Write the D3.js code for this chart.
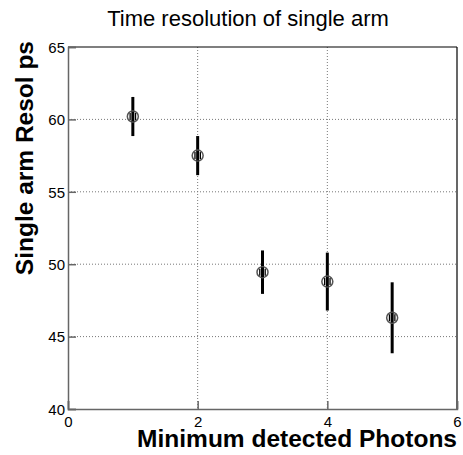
<!DOCTYPE html>
<html>
<head>
<meta charset="utf-8">
<script src="https://cdn.jsdelivr.net/npm/d3@7"></script>
<style>
  body { margin: 0; background: #fff; }
  text { font-family: "Liberation Sans", Arial, sans-serif; }
</style>
</head>
<body>
<div id="chart-area"></div>
<script>
const photons = [1, 2, 3, 4, 5];
const resol = [60.2, 57.5, 49.45, 48.8, 46.3];
const resolErr = [1.35, 1.35, 1.5, 2.0, 2.45];
const xTicks = [0, 2, 4, 6];
const yTicks = [40, 45, 50, 55, 60, 65];

const margin = { top: 47, right: 6, bottom: 46, left: 68 };
const width = 463 - margin.left - margin.right;
const height = 455 - margin.top - margin.bottom;

const svg = d3.select("#chart-area")
  .append("svg")
  .attr("width", 463)
  .attr("height", 455);

const g = svg.append("g")
  .attr("transform", `translate(${margin.left}, ${margin.top})`);

const x = d3.scaleLinear().domain([0, 6]).range([0, width]);
const y = d3.scaleLinear().domain([40, 65]).range([height, 0]);

// grid
g.selectAll(".vgrid")
  .data(xTicks.filter(d => d > 0 && d < 6))
  .enter().append("line")
  .attr("x1", d => x(d)).attr("x2", d => x(d))
  .attr("y1", 0).attr("y2", height)
  .attr("stroke", "#777").attr("stroke-dasharray", "1,2");

g.selectAll(".hgrid")
  .data(yTicks.filter(d => d > 40 && d < 65))
  .enter().append("line")
  .attr("x1", 0).attr("x2", width)
  .attr("y1", d => y(d)).attr("y2", d => y(d))
  .attr("stroke", "#777").attr("stroke-dasharray", "1,2");

// frame
g.append("line").attr("x1", 0).attr("x2", width).attr("y1", 0).attr("y2", 0)
  .attr("stroke", "#000").attr("stroke-width", 1.2);
g.append("line").attr("x1", width).attr("x2", width).attr("y1", 0).attr("y2", height)
  .attr("stroke", "#000").attr("stroke-width", 1.2);

// axes
const xAxis = d3.axisBottom(x).tickValues(xTicks).tickSize(-8).tickPadding(7)
  .tickFormat(d3.format("d"));
const yAxis = d3.axisLeft(y).tickValues(yTicks).tickSize(-8).tickPadding(3)
  .tickFormat(d3.format("d"));

const xg = g.append("g").attr("transform", `translate(0, ${height})`).call(xAxis);
const yg = g.append("g").call(yAxis);

[xg, yg].forEach(a => {
  a.select(".domain").attr("stroke", "#666").attr("stroke-width", 1.5);
  a.selectAll(".tick line").attr("stroke", "#666").attr("stroke-width", 1.5);
  a.selectAll(".tick text").attr("fill", "#000").attr("font-size", "15px")
    .attr("font-family", "Liberation Sans, Arial, sans-serif");
});
yg.selectAll(".tick text").attr("dy", "0.35em");

// error bars
g.selectAll(".err")
  .data(photons)
  .enter().append("line")
  .attr("x1", d => x(d)).attr("x2", d => x(d))
  .attr("y1", (d, i) => y(resol[i] + resolErr[i]))
  .attr("y2", (d, i) => y(resol[i] - resolErr[i]))
  .attr("stroke", "#000").attr("stroke-width", 3);

// markers
const pts = g.selectAll(".pt")
  .data(photons)
  .enter().append("g")
  .attr("transform", (d, i) => `translate(${x(d)}, ${y(resol[i])})`);

pts.append("circle").attr("r", 5.5)
  .attr("fill", "#fff").attr("stroke", "#555").attr("stroke-width", 1.5);
pts.selectAll("line")
  .data([-2.7, 0, 2.7])
  .enter().append("line")
  .attr("x1", d => d).attr("x2", d => d)
  .attr("y1", d => d === 0 ? -5 : -3.5).attr("y2", d => d === 0 ? 5 : 3.5)
  .attr("stroke", "#000").attr("stroke-width", d => d === 0 ? 3 : 1.3);

// titles
svg.append("text")
  .attr("x", 248).attr("y", 26)
  .attr("text-anchor", "middle")
  .attr("font-size", "22px")
  .text("Time resolution of single arm");

svg.append("text")
  .attr("x", margin.left + width).attr("y", 447)
  .attr("text-anchor", "end")
  .attr("font-size", "24.5px").attr("font-weight", "bold")
  .text("Minimum detected Photons");

svg.append("text")
  .attr("transform", "rotate(-90)")
  .attr("x", -41).attr("y", 33)
  .attr("text-anchor", "end")
  .attr("font-size", "24.5px").attr("font-weight", "bold")
  .text("Single arm Resol ps");
</script>
</body>
</html>
